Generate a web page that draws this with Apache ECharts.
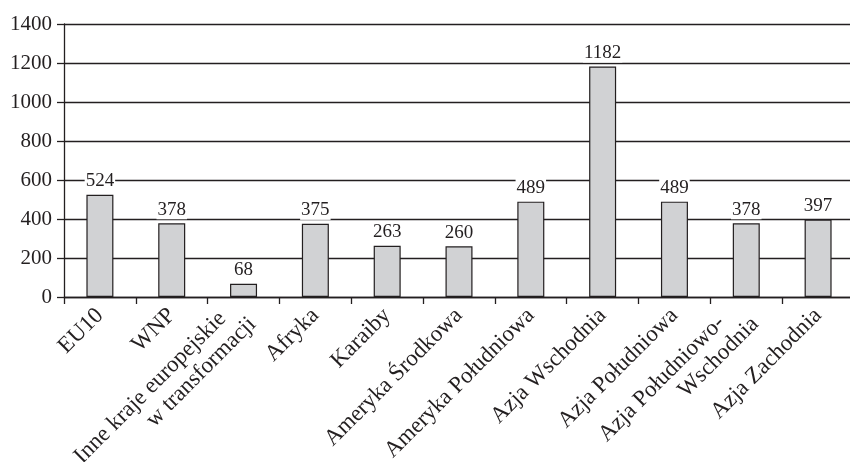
<!DOCTYPE html>
<html>
<head>
<meta charset="utf-8">
<script src="https://cdn.jsdelivr.net/npm/echarts@6/dist/echarts.min.js"></script>
<style>
  html, body { margin: 0; padding: 0; background: #fff; }
  #chart { width: 850px; height: 462px; }
</style>
</head>
<body>
<div id="chart"></div>
<script>
// Regions and their values
const categories = [
  'EU10',
  'WNP',
  'Inne kraje europejskie   \nw transformacji',
  'Afryka',
  'Karaiby',
  'Ameryka Środkowa',
  'Ameryka Południowa',
  'Azja Wschodnia',
  'Azja Południowa',
  'Azja Południowo-    \nWschodnia',
  'Azja Zachodnia'
];
const values = [524, 378, 68, 375, 263, 260, 489, 1182, 489, 378, 397];

// Value axis scale
const yMin = 0;
const yMax = 1400;
const yStep = 200;

const ink = '#231f20';
const serif = '"Liberation Serif", "DejaVu Serif", serif';

const chart = echarts.init(document.getElementById('chart'), null, { renderer: 'canvas' });
chart.setOption({
  animation: false,
  backgroundColor: '#fff',
  grid: {
    left: 64, top: 24, width: 790, height: 273,
    containLabel: false,
    outerBoundsMode: 'none'
  },
  xAxis: {
    type: 'category',
    data: categories,
    boundaryGap: true,
    axisLine: { show: true, lineStyle: { color: ink, width: 1.3 } },
    axisTick: { show: true, length: 7, alignWithLabel: false, lineStyle: { color: ink, width: 1.3 } },
    axisLabel: {
      interval: 0,
      rotate: 45,
      margin: 15,
      color: ink,
      fontFamily: serif,
      fontSize: 23,
      lineHeight: 25,
      hideOverlap: false
    },
    splitLine: { show: false }
  },
  yAxis: {
    type: 'value',
    min: yMin,
    max: yMax,
    interval: yStep,
    axisLine: { show: true, lineStyle: { color: ink, width: 1.3 } },
    axisTick: { show: true, length: 7, lineStyle: { color: ink, width: 1.3 } },
    axisLabel: {
      margin: 12,
      color: ink,
      fontFamily: serif,
      fontSize: 21,
      formatter: (v) => String(v)
    },
    splitLine: { show: true, lineStyle: { color: ink, width: 1.3 } }
  },
  series: [{
    type: 'bar',
    data: values,
    barWidth: 27,
    itemStyle: { color: '#d1d2d4', borderColor: ink, borderWidth: 1.2 },
    label: {
      show: true,
      position: 'top',
      distance: 4,
      color: ink,
      fontFamily: serif,
      fontSize: 19,
      backgroundColor: '#fff',
      padding: [0, 1]
    }
  }]
});
</script>
</body>
</html>
